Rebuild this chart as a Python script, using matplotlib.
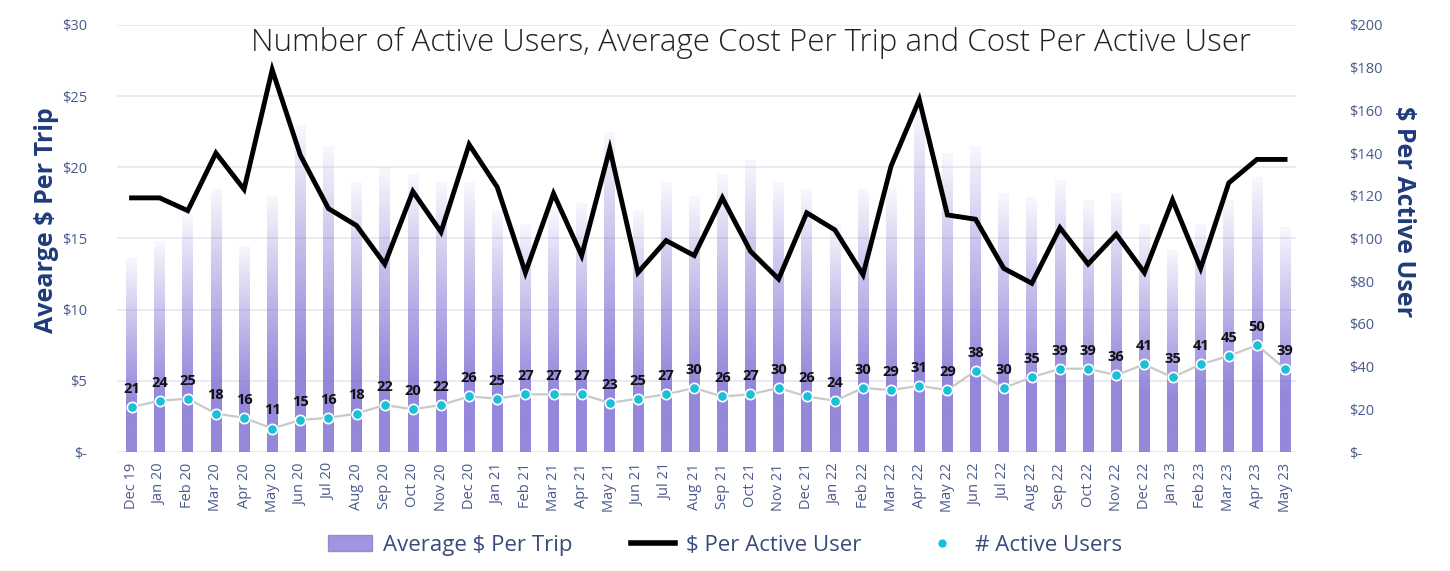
import numpy as np
import matplotlib.pyplot as plt
from matplotlib.patches import Patch
from matplotlib.lines import Line2D

plt.rcParams['font.family'] = ['Open Sans', 'DejaVu Sans']

months = ['Dec 19', 'Jan 20', 'Feb 20', 'Mar 20', 'Apr 20', 'May 20', 'Jun 20', 'Jul 20',
          'Aug 20', 'Sep 20', 'Oct 20', 'Nov 20', 'Dec 20', 'Jan 21', 'Feb 21', 'Mar 21',
          'Apr 21', 'May 21', 'Jun 21', 'Jul 21', 'Aug 21', 'Sep 21', 'Oct 21', 'Nov 21',
          'Dec 21', 'Jan 22', 'Feb 22', 'Mar 22', 'Apr 22', 'May 22', 'Jun 22', 'Jul 22',
          'Aug 22', 'Sep 22', 'Oct 22', 'Nov 22', 'Dec 22', 'Jan 23', 'Feb 23', 'Mar 23',
          'Apr 23', 'May 23']

avg_per_trip = [13.6, 14.8, 16.7, 18.5, 14.5, 18.0, 23.0, 21.5, 19.0, 20.0, 19.5, 19.0,
                19.0, 17.0, 16.0, 17.0, 17.5, 22.5, 17.0, 19.0, 18.0, 19.5, 20.5, 19.0,
                18.5, 16.0, 18.5, 18.5, 24.0, 21.0, 21.5, 18.2, 17.9, 19.1, 17.7, 18.2,
                16.0, 14.2, 16.0, 17.7, 19.3, 15.8]

per_active_user = [119, 119, 113, 140, 123, 179, 139, 114, 106, 88, 122, 103,
                   144, 124, 84, 121, 92, 142, 84, 99, 92, 119, 94, 81,
                   112, 104, 83, 134, 165, 111, 109, 86, 79, 105, 88, 102,
                   84, 118, 86, 126, 137, 137]

active_users = [21, 24, 25, 18, 16, 11, 15, 16, 18, 22, 20, 22, 26, 25, 27, 27, 27, 23,
                25, 27, 30, 26, 27, 30, 26, 24, 30, 29, 31, 29, 38, 30, 35, 39, 39, 36,
                41, 35, 41, 45, 50, 39]

tick_col = '#4a5a8a'
label_col = '#1f3b7a'
bar_rgb = np.array([130, 115, 212]) / 255.0

fig = plt.figure(figsize=(14.5, 5.71), dpi=100)
ax = fig.add_axes([0.081, 0.2084, 0.813, 0.748])
ax2 = ax.twinx()

x = np.arange(len(months))
bars = ax.bar(x, avg_per_trip, width=0.38, color='none', edgecolor='none')

# gradient fill: purple at bottom, fading out toward top
n = 200
t = np.linspace(0, 1, n)[:, None]
alpha = np.clip(1.05 - 1.0 * t ** 1.2, 0.06, 0.85)
img = np.zeros((n, 1, 4))
img[..., :3] = bar_rgb
img[..., 3] = alpha
for rect in bars:
    x0 = rect.get_x()
    w = rect.get_width()
    h = rect.get_height()
    im = ax.imshow(img, extent=[x0, x0 + w, 0, h], origin='lower', aspect='auto', zorder=2)
    im.set_clip_path(rect)

ax.set_xlim(-0.5, 41.4)
ax.set_ylim(0, 30)
ax.set_yticks(np.arange(0, 31, 5))
ax.set_yticklabels(['$-'] + ['$%d' % v for v in range(5, 31, 5)])
ax.grid(axis='y', color='#e6e8ee', linewidth=1.2, zorder=0)
ax.set_axisbelow(True)
ax.set_xticks(x)
ax.set_xticklabels(months, rotation=90)
ax.tick_params(axis='x', length=0, labelsize=10.5, colors=tick_col, pad=8)
ax.tick_params(axis='y', length=0, labelsize=10.5, colors=tick_col, pad=22)

# right axis: cost per active user and active users
ax2.plot(x, per_active_user, color='black', linewidth=3.5, zorder=4, solid_joinstyle='miter')
ax2.plot(x, active_users, color='#c9c9c9', linewidth=1.6, zorder=3)
ax2.scatter(x, active_users, s=55, color='#19c0d6', edgecolor='white', linewidth=1.2, zorder=5)
for xi, v in zip(x, active_users):
    ax2.annotate(str(v), (xi, v), xytext=(0, 8), textcoords='offset points',
                 ha='center', va='bottom', fontsize=10.5, fontweight='bold', color='#111111')
ax2.set_ylim(0, 200)
ax2.set_yticks(np.arange(0, 201, 20))
ax2.set_yticklabels(['$-'] + ['$%d' % v for v in range(20, 201, 20)])
ax2.tick_params(axis='y', length=0, labelsize=10.5, colors=tick_col, pad=38)

for a in (ax, ax2):
    for s in a.spines.values():
        s.set_visible(False)

fig.text(0.032, 0.615, 'Avearge $ Per Trip', rotation=90, ha='center', va='center',
         fontsize=18, fontweight='bold', color=label_col)
fig.text(0.968, 0.63, '$ Per Active User', rotation=270, ha='center', va='center',
         fontsize=18, fontweight='bold', color=label_col)

fig.text(0.518, 0.925, 'Number of Active Users, Average Cost Per Trip and Cost Per Active User',
         ha='center', va='center', fontsize=22.5, color='#222222', fontweight='light')

handles = [Patch(color=bar_rgb, alpha=0.75),
           Line2D([0], [0], color='black', linewidth=4),
           Line2D([0], [0], marker='o', color='none', markerfacecolor='#19c0d6',
                  markeredgecolor='white', markersize=7)]
leg = fig.legend(handles, ['Average $ Per Trip', '$ Per Active User', '# Active Users'],
                 loc='center', bbox_to_anchor=(0.5, 0.045), ncol=3, frameon=False,
                 fontsize=16, handlelength=2.0, handletextpad=0.5, columnspacing=2.6)
for txt in leg.get_texts():
    txt.set_color('#3a4a7a')

fig.savefig('out.png', dpi=100)
